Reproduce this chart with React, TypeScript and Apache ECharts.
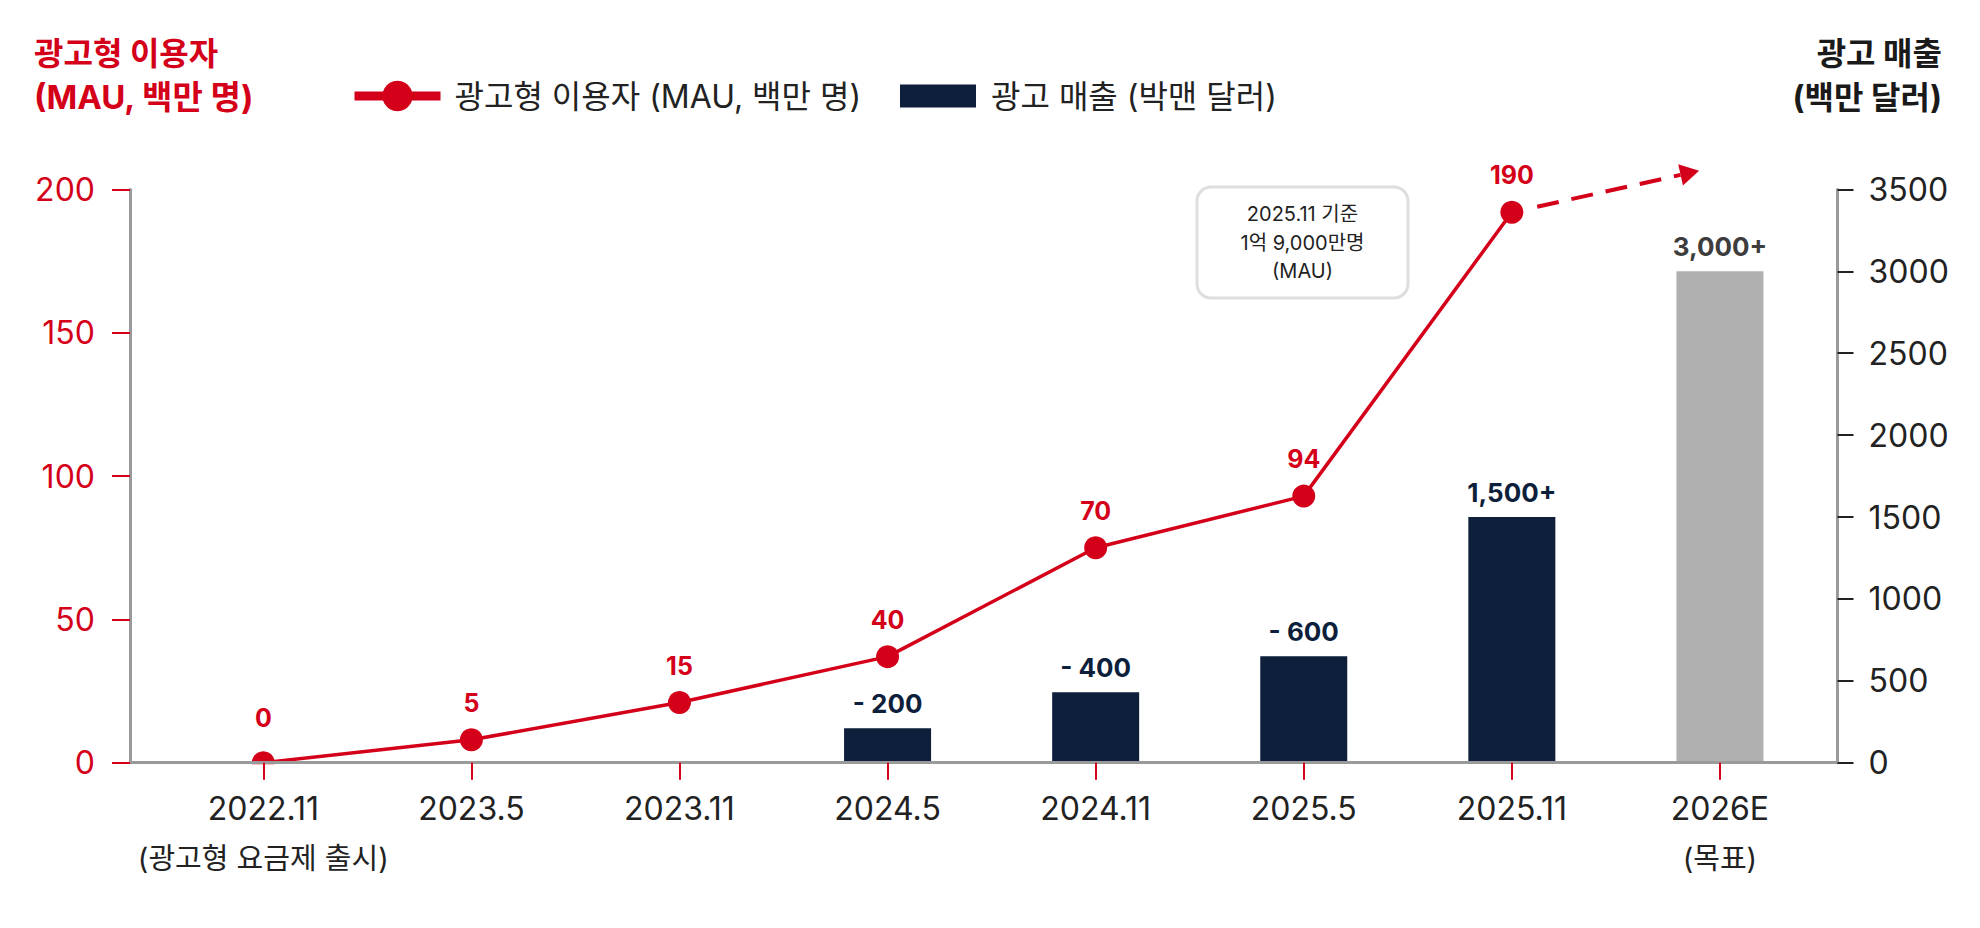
import React, { useEffect, useRef } from 'react';
import * as echarts from 'echarts';

const categories = ['2022.11', '2023.5', '2023.11', '2024.5', '2024.11', '2025.5', '2025.11', '2026E'];
const categoryNotes = ['(광고형 요금제 출시)', '', '', '', '', '', '', '(목표)'];

// 광고형 이용자 (MAU, 백만 명) — plotted positions, with their printed labels
const mauValues = [0, 8, 21, 37, 75, 93, 192];
const mauLabels = ['0', '5', '15', '40', '70', '94', '190'];

// 광고 매출 (백만 달러)
const revenueValues: (number | null)[] = [null, null, null, 210, 430, 650, 1500, 3000];
const revenueLabels = ['', '', '', '- 200', '- 400', '- 600', '1,500+', '3,000+'];

const leftTicks = [0, 50, 100, 150, 200];
const rightTicks = [0, 500, 1000, 1500, 2000, 2500, 3000, 3500];

const noteLines = ['2025.11 기준', '1억 9,000만명', '(MAU)'];
const arrowTip = [6.9, 206.5];

const RED = '#d4001a';
const NAVY = '#0e1f3b';
const GRAY_BAR = '#b0b0b0';
const AXIS_GRAY = '#9a9a9a';
const TEXT = '#222222';
const FONT = "Inter, 'Noto Sans CJK KR', sans-serif";

const MAU_NAME = '광고형 이용자 (MAU, 백만 명)';
const REV_NAME = '광고 매출 (박맨 달러)';

export default function App() {
  const ref = useRef<HTMLDivElement>(null);

  useEffect(() => {
    if (!ref.current) return;
    const chart = echarts.init(ref.current, undefined, { renderer: 'svg' });
    const idx = categories.map((_, i) => i);

    chart.setOption({
      animation: false,
      backgroundColor: '#ffffff',
      textStyle: { fontFamily: FONT },
      grid: { left: 130, right: 142.5, top: 189.4, bottom: 165.3, containLabel: false },
      legend: [
        {
          data: [MAU_NAME],
          left: 345,
          top: 75,
          itemWidth: 86,
          itemHeight: 38,
          selectedMode: false,
          lineStyle: { width: 9 },
          textStyle: { fontSize: 32, color: TEXT, fontFamily: FONT, padding: [0, 0, 0, 9] },
        },
        {
          data: [REV_NAME],
          left: 895,
          top: 75,
          itemWidth: 76,
          itemHeight: 23,
          icon: 'rect',
          selectedMode: false,
          textStyle: { fontSize: 32, color: TEXT, fontFamily: FONT, padding: [0, 0, 0, 10] },
        },
      ],
      xAxis: {
        type: 'value',
        min: -0.6406,
        max: 7.565,
        z: 20,
        splitLine: { show: false },
        axisLine: { show: true, onZero: false, lineStyle: { color: AXIS_GRAY, width: 3 } },
        axisTick: { show: true, customValues: idx, length: 17, lineStyle: { color: RED, width: 2 } },
        axisLabel: {
          customValues: idx,
          margin: 21,
          fontSize: 32,
          lineHeight: 50,
          color: TEXT,
          fontFamily: FONT,
          rich: { n: { fontSize: 29, lineHeight: 50, color: TEXT, fontFamily: FONT } },
          formatter: (v: number) => {
            const i = Math.round(v);
            return categoryNotes[i] ? `${categories[i]}\n{n|${categoryNotes[i]}}` : categories[i];
          },
        },
      },
      yAxis: [
        {
          type: 'value',
          position: 'left',
          min: leftTicks[0],
          max: leftTicks[leftTicks.length - 1],
          interval: 50,
          z: 20,
          splitLine: { show: false },
          axisLine: { show: true, onZero: false, lineStyle: { color: AXIS_GRAY, width: 3 } },
          axisTick: { show: true, length: 18, lineStyle: { color: RED, width: 2 } },
          axisLabel: { color: RED, fontSize: 32, margin: 35, fontFamily: FONT, formatter: (v: number) => String(v) },
        },
        {
          type: 'value',
          position: 'right',
          min: rightTicks[0],
          max: rightTicks[rightTicks.length - 1],
          interval: 500,
          z: 20,
          splitLine: { show: false },
          axisLine: { show: true, onZero: false, lineStyle: { color: AXIS_GRAY, width: 3 } },
          axisTick: { show: true, length: 16, lineStyle: { color: TEXT, width: 2 } },
          axisLabel: { color: TEXT, fontSize: 32, margin: 31, fontFamily: FONT, formatter: (v: number) => String(v) },
        },
      ],
      series: [
        {
          name: REV_NAME,
          type: 'bar',
          xAxisIndex: 0,
          yAxisIndex: 1,
          barWidth: 87,
          itemStyle: { color: NAVY },
          z: 2,
          label: {
            show: true,
            position: 'top',
            distance: 12,
            formatter: '{b}',
            fontSize: 26,
            fontWeight: 'bold',
            color: NAVY,
            fontFamily: FONT,
          },
          data: revenueValues
            .map((v, i) =>
              v == null
                ? null
                : {
                    value: [i, v],
                    name: revenueLabels[i],
                    itemStyle: { color: i === categories.length - 1 ? GRAY_BAR : NAVY },
                    label: { color: i === categories.length - 1 ? '#3d3d3d' : NAVY },
                  }
            )
            .filter((d) => d !== null),
        },
        {
          name: MAU_NAME,
          type: 'line',
          xAxisIndex: 0,
          yAxisIndex: 0,
          symbol: 'circle',
          symbolSize: 23,
          z: 3,
          lineStyle: { color: RED, width: 3.5 },
          itemStyle: { color: RED },
          label: {
            show: true,
            position: 'top',
            distance: 13,
            formatter: (p: any) => mauLabels[p.dataIndex],
            fontSize: 25,
            fontWeight: 'bold',
            color: RED,
            fontFamily: FONT,
          },
          data: mauValues.map((v, i) =>
            i === 0 ? { value: [i, v], label: { distance: 21 } } : [i, v]
          ),
        },
      ],
    });

    // annotation arrow (dashed) from the last MAU point
    const cs = { xAxisIndex: 0, yAxisIndex: 0 };
    const last = mauValues.length - 1;
    const p0 = chart.convertToPixel(cs, [last, mauValues[last]]) as number[];
    const tip = chart.convertToPixel(cs, arrowTip) as number[];
    const first = chart.convertToPixel(cs, [0, mauValues[0]]) as number[];
    const dx = tip[0] - p0[0];
    const dy = tip[1] - p0[1];
    const len = Math.sqrt(dx * dx + dy * dy);
    const ux = dx / len;
    const uy = dy / len;
    const nx = -uy;
    const ny = ux;
    const start = [p0[0] + ux * 26, p0[1] + uy * 26];
    const base = [tip[0] - ux * 19, tip[1] - uy * 19];

    const titleStyle = (text: string, fill: string, size: number, align: string) => ({
      text,
      fill,
      fontSize: size,
      fontWeight: 'bold',
      fontFamily: FONT,
      align,
      verticalAlign: 'middle',
    });

    chart.setOption({
      graphic: [
        { type: 'text', x: 34, y: 53, style: titleStyle('광고형 이용자', RED, 32, 'left') },
        { type: 'text', x: 34, y: 97, style: titleStyle('(MAU, 백만 명)', RED, 33, 'left') },
        { type: 'text', x: 1942, y: 53, style: titleStyle('광고 매출', '#1a1a1a', 32, 'right') },
        { type: 'text', x: 1942, y: 97, style: titleStyle('(백만 달러)', '#1a1a1a', 32, 'right') },
        // white mask so the first point shows as a half dot above the axis
        {
          type: 'rect',
          z: 10,
          shape: { x: first[0] - 16, y: first[1] + 1.5, width: 32, height: 16 },
          style: { fill: '#ffffff' },
        },
        {
          type: 'rect',
          shape: { x: 1197, y: 187, width: 211, height: 111, r: 14 },
          style: { fill: '#ffffff', stroke: '#dedede', lineWidth: 3 },
          z: 10,
        },
        {
          type: 'text',
          x: 1302.5,
          y: 242.5,
          z: 11,
          style: {
            text: noteLines.join('\n'),
            fill: TEXT,
            fontSize: 20,
            lineHeight: 28.5,
            fontFamily: FONT,
            align: 'center',
            verticalAlign: 'middle',
          },
        },
        {
          type: 'line',
          z: 10,
          shape: { x1: start[0], y1: start[1], x2: base[0], y2: base[1] },
          style: { stroke: RED, lineWidth: 4, lineDash: [22, 13] },
        },
        {
          type: 'polygon',
          z: 10,
          shape: {
            points: [
              [tip[0], tip[1]],
              [base[0] + nx * 11, base[1] + ny * 11],
              [base[0] - nx * 11, base[1] - ny * 11],
            ],
          },
          style: { fill: RED },
        },
      ],
    });

    return () => chart.dispose();
  }, []);

  return (
    <div
      ref={ref}
      style={{ position: 'fixed', left: 0, top: 0, width: 1980, height: 928, background: '#ffffff' }}
    />
  );
}
